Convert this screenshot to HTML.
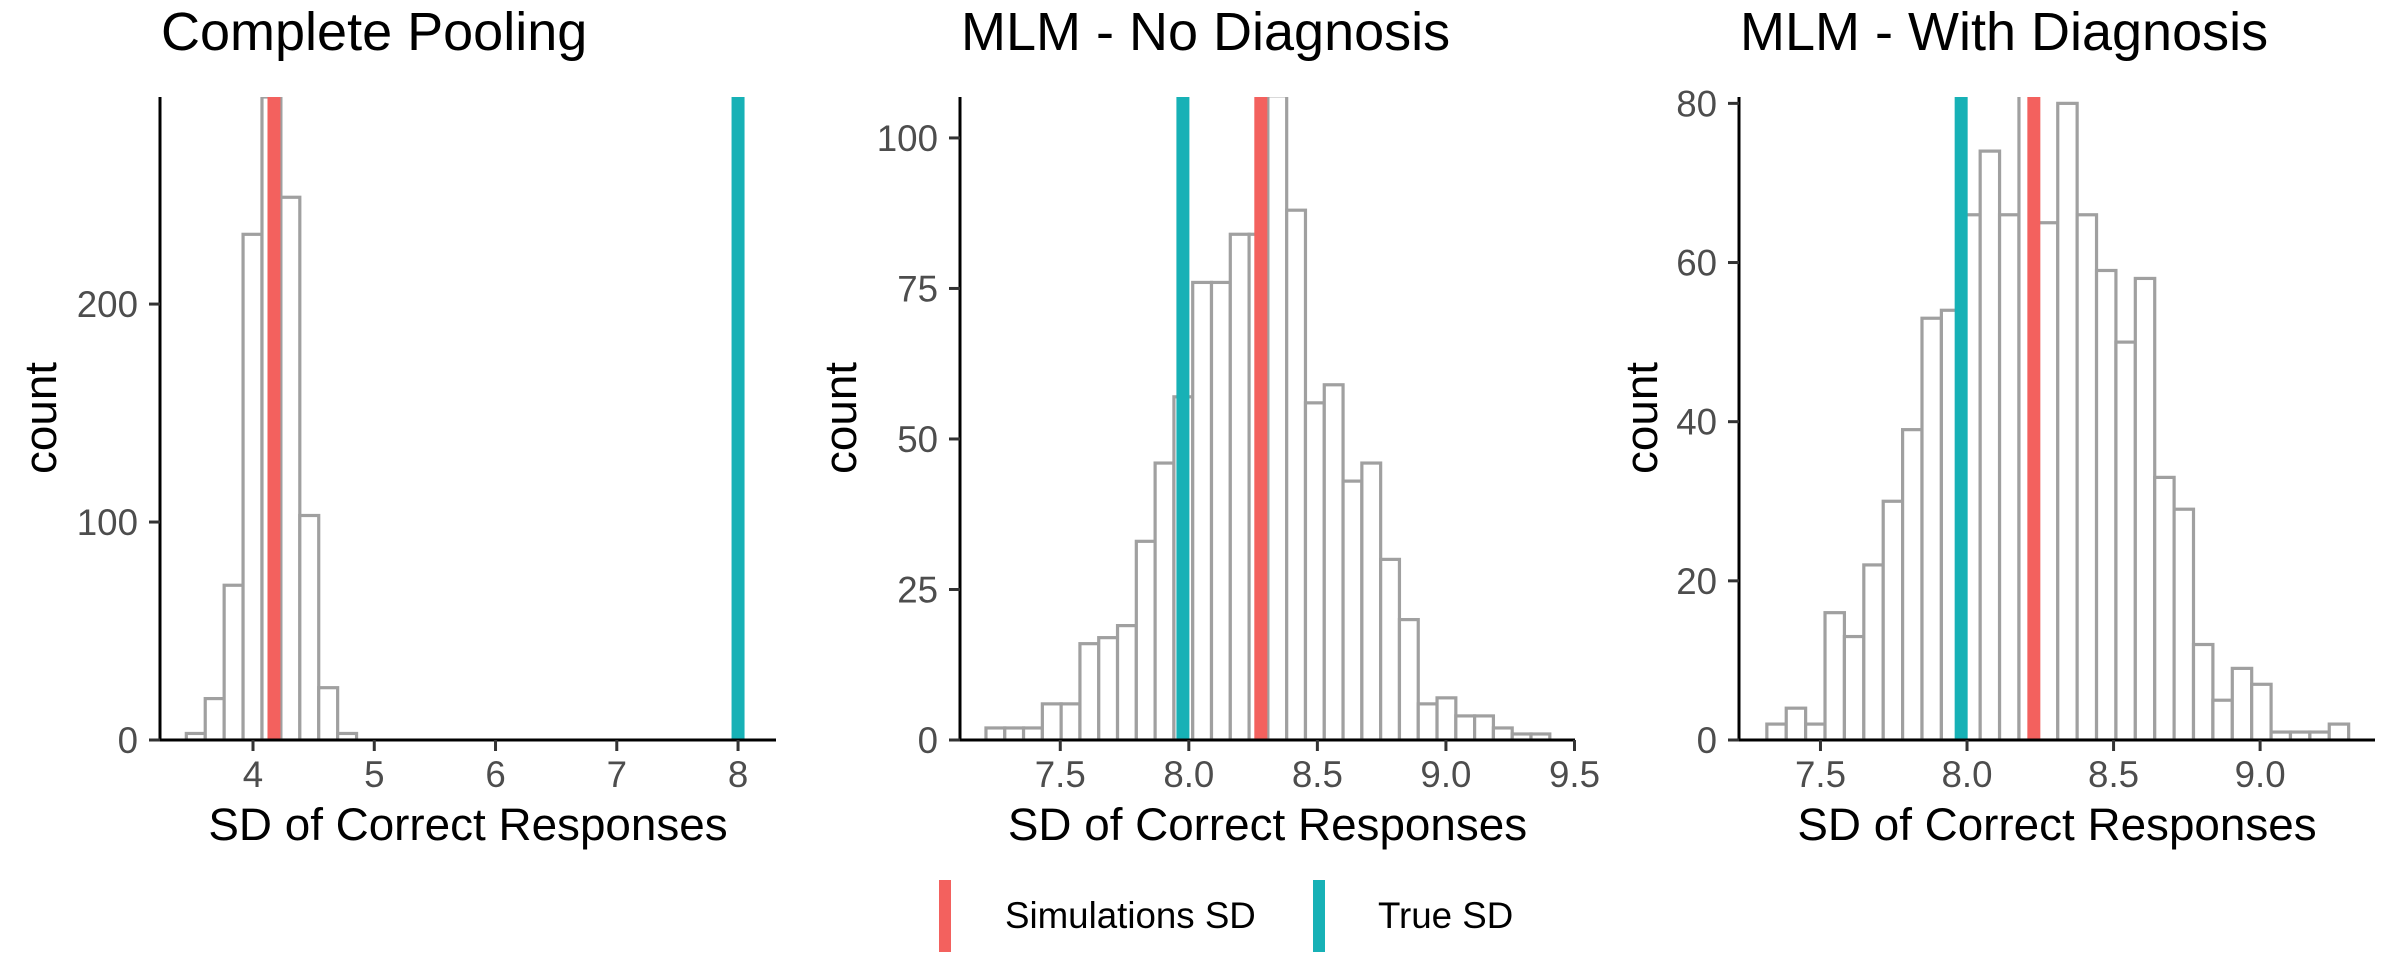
<!DOCTYPE html>
<html><head><meta charset="utf-8"><style>
html,body{margin:0;padding:0;background:#fff;}
svg{display:block;font-family:"Liberation Sans",Arial,sans-serif;}
</style></head><body>
<svg id="chart" width="2400" height="960" viewBox="0 0 2400 960" xmlns="http://www.w3.org/2000/svg"></svg>
<script>
// ---- data ----
const panelTitles = ["Complete Pooling", "MLM - No Diagnosis", "MLM - With Diagnosis"];
const p1BinStart = 3.45, p1BinWidth = 0.156;
const p1Counts = [3, 19, 71, 232, 295, 249, 103, 24, 3];
const p2BinStart = 7.211, p2BinWidth = 0.0731;
const p2Counts = [2, 2, 2, 6, 6, 16, 17, 19, 33, 46, 57, 76, 76, 84, 84, 107, 88, 56, 59, 43, 46, 30, 20, 6, 7, 4, 4, 2, 1, 1];
const p3BinStart = 7.317, p3BinWidth = 0.06617;
const p3Counts = [2, 4, 2, 16, 13, 22, 30, 39, 53, 54, 66, 74, 66, 81, 65, 80, 66, 59, 50, 58, 33, 29, 12, 5, 9, 7, 1, 1, 1, 2];
const simSD = [4.173, 8.28, 8.228];
const trueSD = [8.0, 7.977, 7.98];
const p1XTicks = [4, 5, 6, 7, 8];
const p2XTicks = [7.5, 8.0, 8.5, 9.0, 9.5];
const p3XTicks = [7.5, 8.0, 8.5, 9.0];
const p1YTicks = [0, 100, 200];
const p2YTicks = [0, 25, 50, 75, 100];
const p3YTicks = [0, 20, 40, 60, 80];
const p1XLabels = ["4", "5", "6", "7", "8"];
const p2XLabels = ["7.5", "8.0", "8.5", "9.0", "9.5"];
const p3XLabels = ["7.5", "8.0", "8.5", "9.0"];
const legendLabels = ["Simulations SD", "True SD"];

// ---- layout ----
const NS = "http://www.w3.org/2000/svg";
const svg = document.getElementById('chart');
const RED = "#F3615E", TEAL = "#17B1B6";
function mk(tag, attrs, parent) {
  const e = document.createElementNS(NS, tag);
  for (const k in attrs) e.setAttribute(k, attrs[k]);
  (parent || svg).appendChild(e);
  return e;
}
const panels = [
  {title: panelTitles[0], left: 160, right: 776, xd: [3.233, 8.313], yd: [0, 295], start: p1BinStart, w: p1BinWidth, counts: p1Counts, xt: p1XTicks, xl: p1XLabels, yt: p1YTicks},
  {title: panelTitles[1], left: 960, right: 1575, xd: [7.110, 9.502], yd: [0, 106.8], start: p2BinStart, w: p2BinWidth, counts: p2Counts, xt: p2XTicks, xl: p2XLabels, yt: p2YTicks},
  {title: panelTitles[2], left: 1739, right: 2375, xd: [7.222, 9.392], yd: [0, 80.8], start: p3BinStart, w: p3BinWidth, counts: p3Counts, xt: p3XTicks, xl: p3XLabels, yt: p3YTicks}
];
const TOP = 97, BOT = 740;
const defs = mk('defs', {});
panels.forEach((p, i) => {
  const xs = v => p.left + (v - p.xd[0]) / (p.xd[1] - p.xd[0]) * (p.right - p.left);
  const ys = v => BOT - (v - p.yd[0]) / (p.yd[1] - p.yd[0]) * (BOT - TOP);
  const g = mk('g', {});
  
  
  const cp = mk('clipPath', {id: 'clip' + i}, defs);
  mk('rect', {x: p.left, y: TOP, width: p.right - p.left, height: BOT - TOP}, cp);

  const t = mk('text', {x: p.left + 1, y: 50, 'font-size': 54, fill: '#000'}, g);
  t.textContent = p.title;
  
  

  const bars = mk('g', {'clip-path': 'url(#clip' + i + ')'}, g);
  p.counts.forEach((c, j) => {
    const x0 = xs(p.start + j * p.w), x1 = xs(p.start + (j + 1) * p.w);
    const r = mk('rect', {x: x0, y: ys(c), width: x1 - x0, height: BOT - ys(c), fill: '#fff', stroke: '#A0A0A0', 'stroke-width': 3.2}, bars);
    
    
  });
  const lr = mk('rect', {x: xs(simSD[i]) - 6.5, y: TOP, width: 13, height: BOT - TOP, fill: RED}, g);
  
  
  const lt = mk('rect', {x: xs(trueSD[i]) - 6.5, y: TOP, width: 13, height: BOT - TOP, fill: TEAL}, g);
  
  

  const ya = mk('line', {x1: p.left, y1: TOP, x2: p.left, y2: BOT + 1.5, stroke: '#000', 'stroke-width': 3}, g);
  
  
  const xa = mk('line', {x1: p.left - 1.5, y1: BOT, x2: p.right, y2: BOT, stroke: '#000', 'stroke-width': 3}, g);
  
  

  p.yt.forEach(v => {
    mk('line', {x1: p.left - 11, y1: ys(v), x2: p.left, y2: ys(v), stroke: '#333', 'stroke-width': 3}, g);
    const tl = mk('text', {x: p.left - 22, y: ys(v) + 13, 'font-size': 36.7, fill: '#4D4D4D', 'text-anchor': 'end'}, g);
    tl.textContent = String(v);
    
    
  });
  p.xt.forEach((v, k) => {
    mk('line', {x1: xs(v), y1: BOT, x2: xs(v), y2: BOT + 11, stroke: '#333', 'stroke-width': 3}, g);
    const tl = mk('text', {x: xs(v), y: 787, 'font-size': 36.7, fill: '#4D4D4D', 'text-anchor': 'middle'}, g);
    tl.textContent = p.xl[k];
    
    
  });
  const xt = mk('text', {x: (p.left + p.right) / 2, y: 840, 'font-size': 45.8, fill: '#000', 'text-anchor': 'middle'}, g);
  xt.textContent = 'SD of Correct Responses';
  
  
  const yt = mk('text', {x: 0, y: 0, 'font-size': 45.8, fill: '#000', 'text-anchor': 'middle', transform: 'translate(' + (i === 2 ? 1657 : p.left - 104) + ',418) rotate(-90)'}, g);
  yt.textContent = 'count';
  
  
});

// legend
const leg = mk('g', {});


const keyX = [939, 1313], txtX = [1005, 1378], cols = [RED, TEAL];
legendLabels.forEach((lab, i) => {
  const k = mk('rect', {x: keyX[i], y: 880, width: 12, height: 72, fill: cols[i]}, leg);
  
  
  const t = mk('text', {x: txtX[i], y: 928, 'font-size': 36.7, fill: '#000'}, leg);
  t.textContent = lab;
  
  
});
</script>
</body></html>
